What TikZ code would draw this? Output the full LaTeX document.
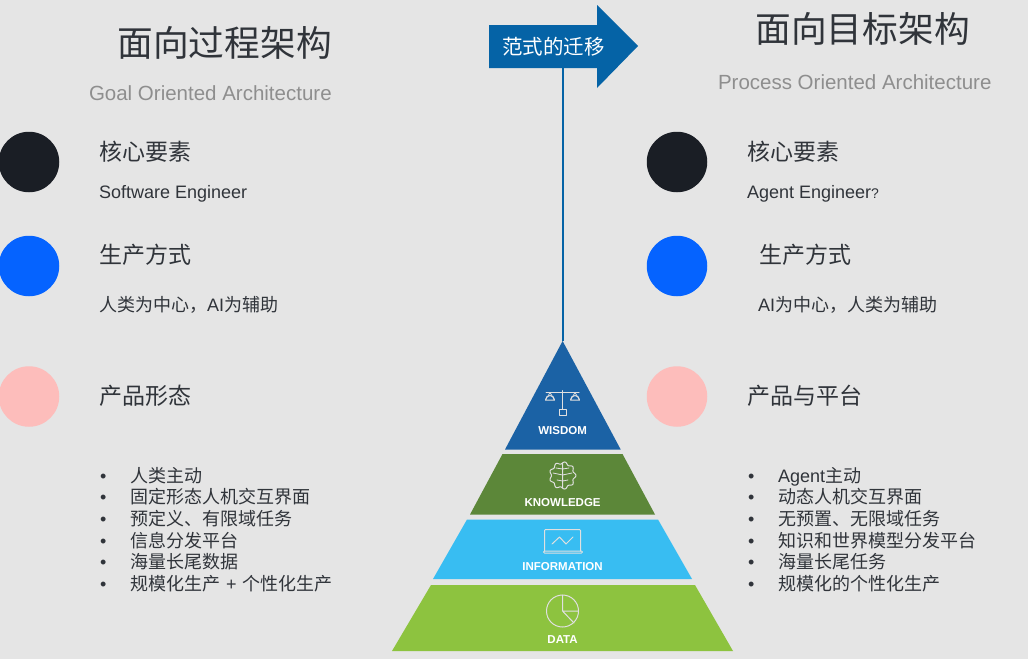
\documentclass[tikz,border=0pt]{standalone}
\usepackage{fontspec}
\setmainfont{Liberation Sans}
\newfontfamily\cjk{Noto Sans CJK SC}
\definecolor{bgc}{HTML}{E5E5E5}
\definecolor{txt}{HTML}{30343A}
\definecolor{subt}{HTML}{8E8E8E}
\definecolor{arrowc}{HTML}{0563A6}
\definecolor{wisc}{HTML}{1B62A5}
\definecolor{knoc}{HTML}{5C8739}
\definecolor{infc}{HTML}{38BDF2}
\definecolor{datc}{HTML}{8DC33F}
\definecolor{dotk}{HTML}{1A1E25}
\definecolor{dotb}{HTML}{0563FF}
\definecolor{dotp}{HTML}{FDBDBB}
\tikzset{
  every node/.style={inner sep=0pt,outer sep=0pt},
  dot/.style={circle,minimum size=60.5pt},
  title/.style={anchor=base west,text=txt,font=\fontsize{35.7}{36}\selectfont\cjk},
  subtitle/.style={anchor=base west,text=subt,font=\fontsize{20.5}{22}\selectfont},
  head/.style={anchor=base west,text=txt,font=\fontsize{23}{25}\selectfont\cjk},
  body/.style={anchor=base west,text=txt,font=\fontsize{18}{20}\selectfont},
  bullets/.style={anchor=base west,text=txt,font=\fontsize{18}{20}\selectfont},
  tier/.style={anchor=base,text=white,font=\fontsize{11.5}{12}\selectfont\bfseries},
  icon/.style={draw=white!88!black,line width=1pt,line join=round,line cap=round},
}
\newcommand{\bl}[3]{\node[bullets] (#1d) at (#2-30,#3) {•};\node[bullets] (#1) at (#2,#3)}
\begin{document}
\begin{tikzpicture}[x=1pt,y=-1pt]
\useasboundingbox (0,0) rectangle (1028,659);
\fill[bgc] (0,0) rectangle (1028,659);
% titles
\node[title] (t1) at (117.5,56) {面向过程架构};
\node[subtitle] (s1) at (89,100.5) {Goal Oriented Architecture};
\node[title] (t2) at (755.5,42) {面向目标架构};
\node[subtitle] (s2) at (718,89) {Process Oriented Architecture};
% dots
\node[dot,fill=dotk] (a1) at (29,162) {};
\node[dot,fill=dotb] (a2) at (29,266) {};
\node[dot,fill=dotp] (a3) at (29,396.5) {};
\node[dot,fill=dotk] (b1) at (677,162) {};
\node[dot,fill=dotb] (b2) at (677,266) {};
\node[dot,fill=dotp] (b3) at (677,396.5) {};
% left
\node[head] (h1) at (99,160) {核心要素};
\node[body] (p1) at (99,198) {Software Engineer};
\node[head] (h2) at (99,263) {生产方式};
\node[body] (p2) at (99,311) {{\cjk 人类为中心，}AI{\cjk 为辅助}};
\node[head] (h3) at (99,404) {产品形态};
\bl{l1}{130}{482} {{\cjk 人类主动}};
\bl{l2}{130}{503} {{\cjk 固定形态人机交互界面}};
\bl{l3}{130}{525} {{\cjk 预定义、有限域任务}};
\bl{l4}{130}{547} {{\cjk 信息分发平台}};
\bl{l5}{130}{568} {{\cjk 海量长尾数据}};
\bl{l6}{130}{590} {{\cjk 规模化生产}\hspace{1pt} + \hspace{1pt}{\cjk 个性化生产}};
% right
\node[head] (h4) at (747.5,160) {核心要素};
\node[body] (p4) at (747,198) {Agent Engineer{\fontsize{14}{16}\selectfont ?}};
\node[head] (h5) at (759,263) {生产方式};
\node[body] (p5) at (758,311) {AI{\cjk 为中心，人类为辅助}};
\node[head] (h6) at (747.5,404) {产品与平台};
\bl{r1}{778}{482} {Agent{\cjk 主动}};
\bl{r2}{778}{503} {{\cjk 动态人机交互界面}};
\bl{r3}{778}{525} {{\cjk 无预置、无限域任务}};
\bl{r4}{778}{547} {{\cjk 知识和世界模型分发平台}};
\bl{r5}{778}{568} {{\cjk 海量长尾任务}};
\bl{r6}{778}{590} {{\cjk 规模化的个性化生产}};
% pyramid
\fill[wisc] (562.6,341) -- (620.7,449.5) -- (505,449.5) -- cycle;
\fill[knoc] (502.5,454) -- (622.5,454) -- (655,514.5) -- (470,514.5) -- cycle;
\fill[infc] (467,519.5) -- (658,519.5) -- (692,579) -- (433,579) -- cycle;
\fill[datc] (431,585) -- (695,585) -- (733,651) -- (392,651) -- cycle;
\coordinate (apex) at (562.6,341);
% arrow
\fill[arrowc] (489,25) -- (597,25) -- (597,5) -- (638,46) -- (597,88) -- (597,68) -- (489,68) -- cycle;
\node[text=white,font=\fontsize{20.5}{22}\selectfont\cjk] (flow) at (553.5,47) {范式的迁移};
\coordinate (stem) at (562.6,68);
\draw[arrowc,line width=2pt] (stem) -- (apex);
% tier labels
\node[tier] (w) at (562.6,434.5) {WISDOM};
\node[tier] (k) at (562.6,506) {KNOWLEDGE};
\node[tier] (i) at (562.6,570.5) {INFORMATION};
\node[tier] (d) at (562.6,643.5) {DATA};
% scales
\draw[icon] (562.6,390.5) -- (562.6,409) (546,392.5) -- (579,392.5);
\draw[icon] (559.3,409) rectangle (566,415);
\draw[icon] (545.5,400) -- (554.5,400) arc[start angle=0,end angle=180,radius=4.5,y radius=-4.5];
\draw[icon] (570.5,400) -- (579.5,400) arc[start angle=0,end angle=180,radius=4.5,y radius=-4.5];
\draw[icon,line width=.7pt] (550,392.5) -- (545.5,400) (550,392.5) -- (554.5,400) (575,392.5) -- (570.5,400) (575,392.5) -- (579.5,400);
% brain
\draw[icon] plot[domain=0:360,samples=120,smooth] ({562.6+(12.2+1.1*cos(9*\x))*cos(\x)},{475.5+(12.6+1.1*cos(9*\x))*sin(\x)}) -- cycle;
\draw[icon,line width=.8pt] (562.6,463) -- (562.6,488)
  (562.6,469) -- (556,468) (562.6,475) -- (553,473) (562.6,481) -- (557,480)
  (562.6,469) -- (569,468) (562.6,475) -- (572,473) (562.6,481) -- (568,480);
% laptop
\draw[icon,rounded corners=1pt] (544.5,551) -- (544.5,529.5) -- (580.5,529.5) -- (580.5,551);
\draw[icon,rounded corners=1pt] (543.5,551) rectangle (582.5,553);
\draw[icon] (552,544) -- (559.5,537) -- (566,544) -- (573,537);
% pie
\draw[icon] (562.5,611) circle[radius=16];
\draw[icon] (562.5,595) -- (562.5,611) -- (574,623) (562.5,611) -- (578.5,611);
\end{tikzpicture}
\end{document}
